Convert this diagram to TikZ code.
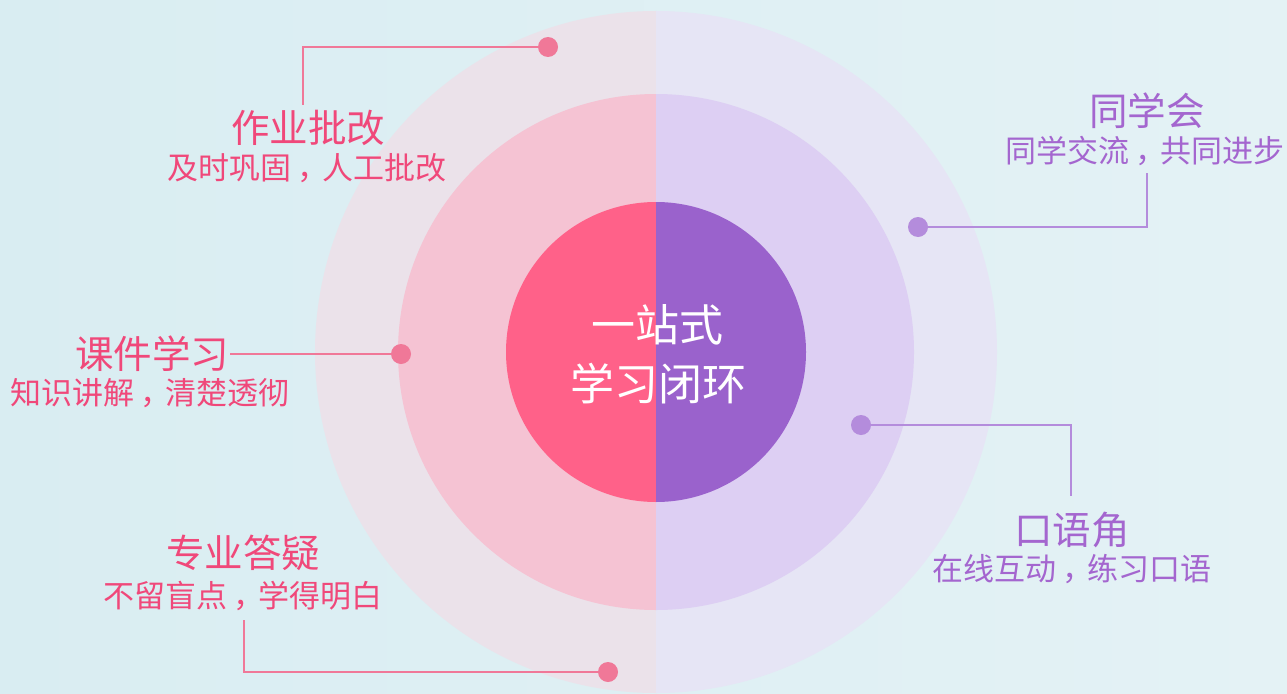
\documentclass[tikz,border=0pt]{standalone}
\usepackage{fontspec}
\newfontfamily\cjk{Noto Sans CJK SC}
\newcommand\ccomma{\makebox[1em][l]{\hspace{0.2em}，}}
\definecolor{bgA}{HTML}{D9EDF2}
\definecolor{bgB}{HTML}{E4F2F5}
\definecolor{outL}{HTML}{EBE2EA}
\definecolor{outR}{HTML}{E6E5F5}
\definecolor{midL}{HTML}{F5C3D3}
\definecolor{midR}{HTML}{DDCFF3}
\definecolor{inL}{HTML}{FF6189}
\definecolor{inR}{HTML}{9A62CC}
\definecolor{pinkT}{HTML}{F0487A}
\definecolor{purT}{HTML}{A466CF}
\definecolor{pinkL}{HTML}{F07898}
\definecolor{purL}{HTML}{B48CDC}
\tikzset{
  pdot/.style={circle,fill=pinkL,minimum size=20pt,inner sep=0pt},
  udot/.style={circle,fill=purL,minimum size=20pt,inner sep=0pt},
  pline/.style={draw=pinkL,line width=1.8pt},
  uline/.style={draw=purL,line width=1.8pt},
  ttl/.style={inner sep=0pt,font=\cjk\fontsize{38.5}{38.5}\selectfont},
  sub/.style={inner sep=0pt,font=\cjk\fontsize{31}{31}\selectfont},
  ctr/.style={inner sep=0pt,text=white,font=\cjk\fontsize{44}{44}\selectfont}
}
\begin{document}
\begin{tikzpicture}[x=1pt,y=-1pt]
\useasboundingbox (0,0) rectangle (1287,693);
\shade[left color=bgA,right color=bgB] (0,0) rectangle (1287,693);
% circles
\begin{scope}
\clip (0,0) rectangle (656,693);
\fill[outL] (656,352) circle (341pt);
\fill[midL] (656,352) circle (258pt);
\fill[inL] (656,352) circle (150pt);
\end{scope}
\begin{scope}
\clip (656,0) rectangle (1287,693);
\fill[outR] (656,352) circle (341pt);
\fill[midR] (656,352) circle (258pt);
\fill[inR] (656,352) circle (150pt);
\end{scope}
\node[ctr] (c1) at (657,325) {一站式};
\node[ctr] (c2) at (658,384) {学习闭环};
% dots
\node[pdot] (d1) at (548,47) {};
\node[udot] (d2) at (918,227) {};
\node[pdot] (d3) at (401,354) {};
\node[udot] (d4) at (861,425) {};
\node[pdot] (d5) at (608,672) {};
% texts
\node[ttl,text=pinkT] (t1) at (308,128) {作业批改};
\node[sub,text=pinkT] (s1) at (307,168) {及时巩固\ccomma 人工批改};
\node[ttl,text=purT] (t2) at (1147,111) {同学会};
\node[sub,text=purT] (s2) at (1145,151) {同学交流\ccomma 共同进步};
\node[ttl,text=pinkT] (t3) at (152,354) {课件学习};
\node[sub,text=pinkT] (s3) at (150,393) {知识讲解\ccomma 清楚透彻};
\node[ttl,text=purT] (t4) at (1072,530) {口语角};
\node[sub,text=purT] (s4) at (1072,569) {在线互动\ccomma 练习口语};
\node[ttl,text=pinkT] (t5) at (243,553) {专业答疑};
\node[sub,text=pinkT] (s5) at (243,596) {不留盲点\ccomma 学得明白};
% connector coordinates
\coordinate (k1) at (303,47);
\coordinate (e1) at (303,105);
\coordinate (k2) at (1147,227);
\coordinate (e2) at (1147,173);
\coordinate (e3) at (230,354);
\coordinate (k4) at (1071,425);
\coordinate (e4) at (1071,496);
\coordinate (k5) at (244,672);
\coordinate (e5) at (244,620);
\draw[pline] (d1) -- (k1) -- (e1);
\draw[uline] (d2) -- (k2) -- (e2);
\draw[pline] (d3) -- (e3);
\draw[uline] (d4) -- (k4) -- (e4);
\draw[pline] (d5) -- (k5) -- (e5);
\end{tikzpicture}
\end{document}
